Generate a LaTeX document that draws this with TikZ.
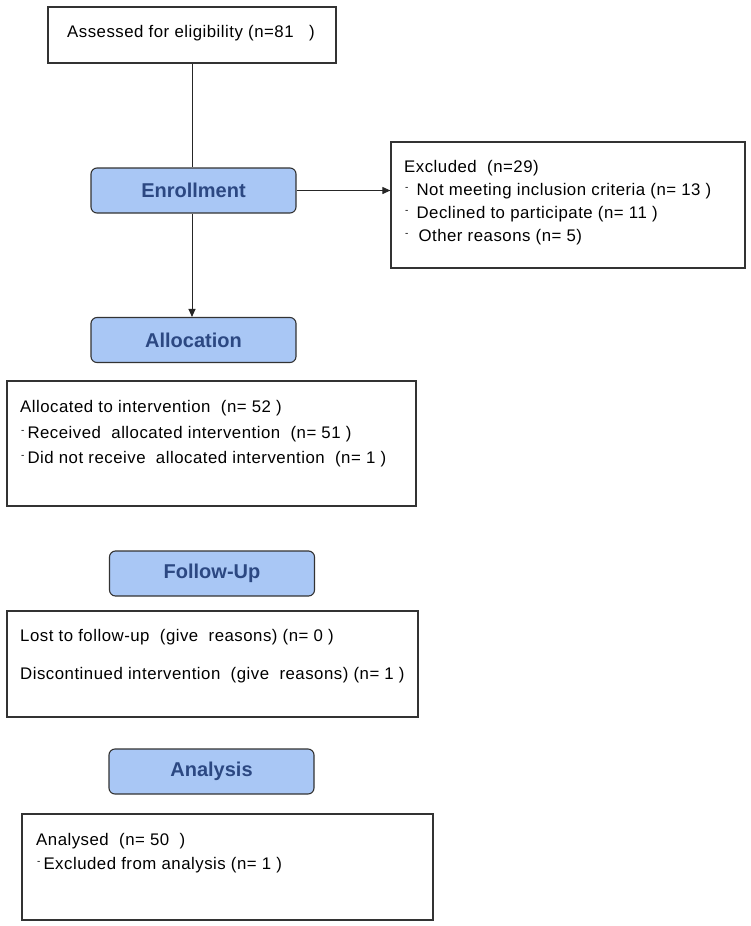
\documentclass[tikz,border=0pt]{standalone}
\usepackage{fontspec}
\setmainfont{Liberation Sans}[LetterSpace=3]
\newfontfamily\hdrfont{Liberation Sans}
\usetikzlibrary{arrows.meta}
\definecolor{hdrfill}{RGB}{169,199,245}
\definecolor{hdrtext}{RGB}{44,72,130}
\newcommand{\dsh}[1][3pt]{\hspace{1pt}\raisebox{5pt}{\fontsize{10}{10}\selectfont -}\hspace{#1}}
\begin{document}
\begin{tikzpicture}[x=1pt,y=-1pt,
    frame/.style={draw=black!80,line width=1.2pt,inner sep=0pt},
    stage/.style={draw=black!80,line width=1.1pt,rounded corners=6pt,fill=hdrfill,
      minimum width=205pt,minimum height=45pt,text=hdrtext,
      font=\hdrfont\bfseries\fontsize{20}{22}\selectfont},
    txt/.style={inner sep=0pt,align=left,anchor=north west,
      font=\fontsize{16.8}{23}\selectfont},
    link/.style={draw=black!85,line width=1pt},
    >={Triangle[length=8pt,width=7pt]}]
  \useasboundingbox (0,0) rectangle (750,926);
  % boxes
  \node[frame,minimum width=288pt,minimum height=56pt] (assess) at (192,35) {};
  \node[txt] (assesst) at (67,25) {Assessed for eligibility (n=81\ \ \ )};
  \node[stage] (enroll) at (193.5,190.5) {Enrollment};
  \node[frame,minimum width=354pt,minimum height=126pt] (excl) at (568,205) {};
  \node[txt] (exclt) at (404,160.5) {Excluded\ \ (n=29)\\
    \dsh[8pt]Not meeting inclusion criteria (n= 13 )\\
    \dsh[8pt]Declined to participate (n= 11 )\\
    \dsh[10pt]Other reasons (n= 5)};
  \node[stage] (alloc) at (193.5,340) {Allocation};
  \node[frame,minimum width=409pt,minimum height=125pt] (allocb) at (211.5,443.5) {};
  \node[txt,font=\fontsize{16.8}{25.5}\selectfont] (alloct) at (20,400.5) {Allocated to intervention\ \ (n= 52 )\\
    \dsh Received\ \ allocated intervention\ \ (n= 51 )\\
    \dsh Did not receive\ \ allocated intervention\ \ (n= 1 )};
  \node[stage] (follow) at (212,573.5) {Follow-Up};
  \node[frame,minimum width=411pt,minimum height=106pt] (followb) at (212.5,664) {};
  \node[txt,font=\fontsize{16.8}{38}\selectfont] (followt) at (20,629) {Lost to follow-up\ \ (give\ \ reasons) (n= 0 )\\
    Discontinued intervention\ \ (give\ \ reasons) (n= 1 )};
  \node[stage] (analys) at (211.5,771.5) {Analysis};
  \node[frame,minimum width=411pt,minimum height=106pt] (analysb) at (227.5,867) {};
  \node[txt,font=\fontsize{16.8}{24.5}\selectfont] (analyst) at (36,833) {Analysed\ \ (n= 50\ \ )\\
    \dsh Excluded from analysis (n= 1 )};
  % connectors
  \draw[link] (assess) -- (assess |- enroll.north);
  \draw[link,->] (enroll.east) -- (enroll.east -| excl.west);
  \draw[link,->] (enroll.south -| assess) -- (alloc.north -| assess);
\end{tikzpicture}
\end{document}
